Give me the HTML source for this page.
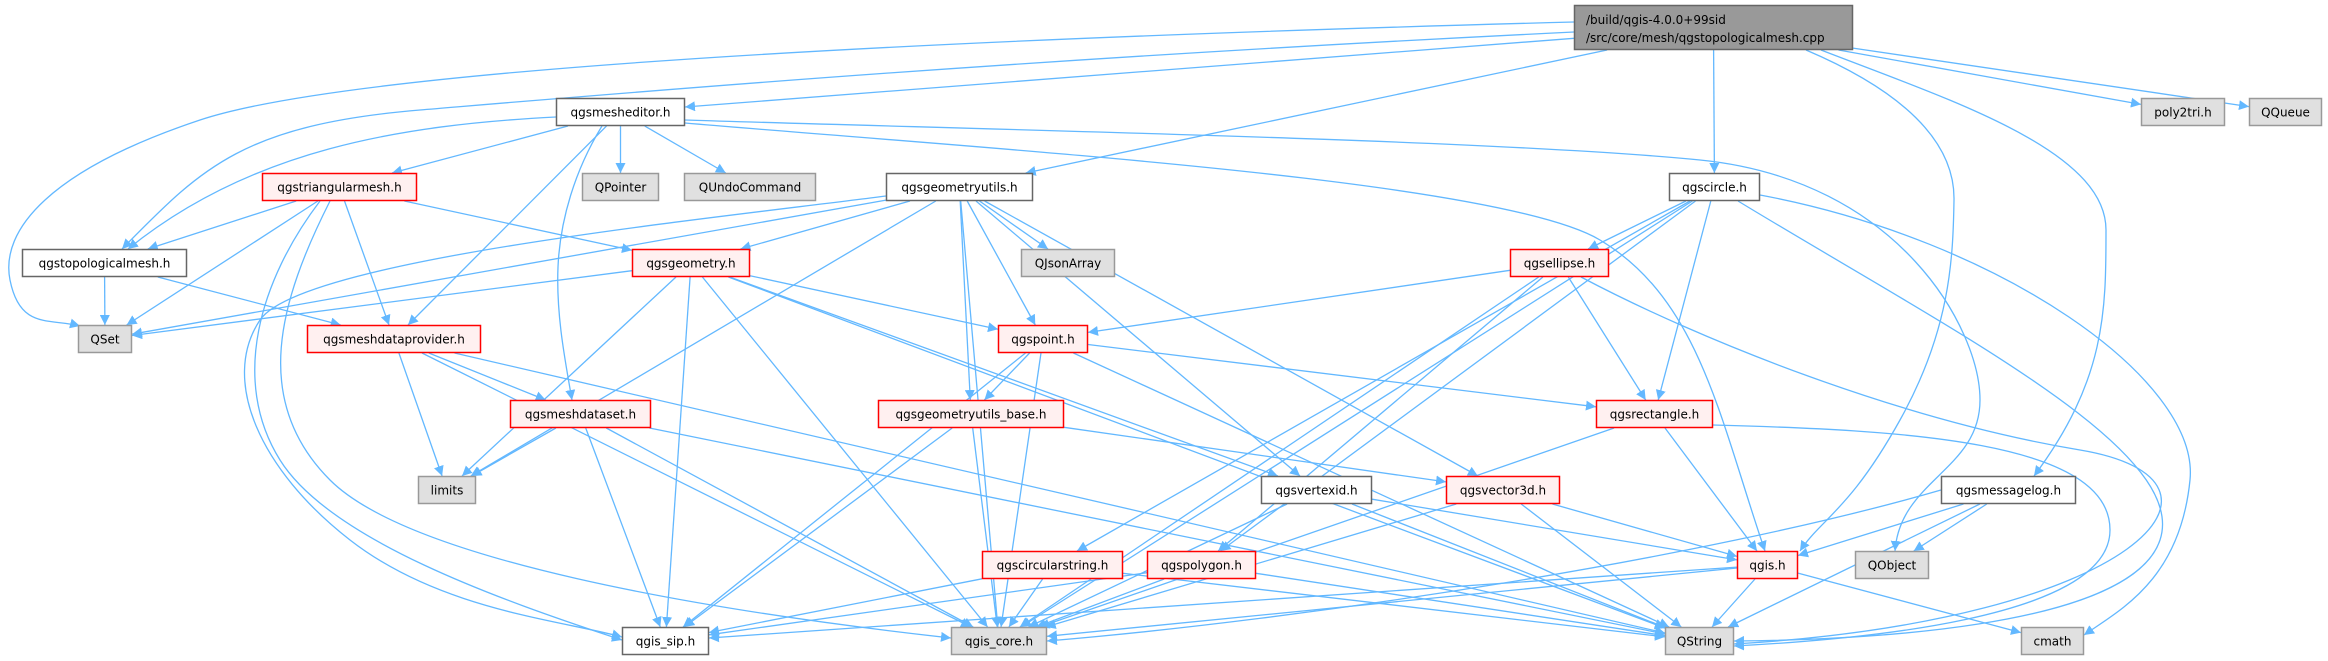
<!DOCTYPE html>
<html><head><meta charset="utf-8">
<style>
html,body{margin:0;padding:0;background:#fff;}
svg{display:block;}
text{font-family:"DejaVu Sans","Liberation Sans",sans-serif;font-size:12px;fill:#000;}
</style></head>
<body>
<svg id="g" width="2328" height="661" viewBox="0 0 2328 661" xmlns="http://www.w3.org/2000/svg">
<defs><marker id="ar" markerUnits="userSpaceOnUse" markerWidth="12" markerHeight="10" refX="10" refY="5" orient="auto"><path d="M0,0 L10,5 L0,10 Z" fill="#63b8ff"/></marker></defs>
<g id="edges" fill="none" stroke="#63b8ff" stroke-width="1.3"></g><g id="nodes"></g>
</svg>
<script>
(function(){
var N={
T:[1574,5,1853,50,'top',['/build/qgis-4.0.0+99sid','/src/core/mesh/qgstopologicalmesh.cpp']],
ed:[556,98,685,126,'w','qgsmesheditor.h'],
p2t:[2141,98,2225,126,'g','poly2tri.h'],
qq:[2249,98,2322,126,'g','QQueue'],
tri:[262,173,417,201,'r','qgstriangularmesh.h'],
qp:[582,173,659,201,'g','QPointer'],
qu:[684,173,816,201,'g','QUndoCommand'],
gu:[886,173,1033,201,'w','qgsgeometryutils.h'],
ci:[1669,173,1760,201,'w','qgscircle.h'],
topo:[22,249,187,277,'w','qgstopologicalmesh.h'],
geo:[632,249,750,277,'r','qgsgeometry.h'],
qj:[1021,249,1115,277,'g','QJsonArray'],
el:[1510,249,1609,277,'r','qgsellipse.h'],
qs:[78,325,132,353,'g','QSet'],
mdp:[307,325,481,353,'r','qgsmeshdataprovider.h'],
pt:[998,325,1088,353,'r','qgspoint.h'],
mds:[510,400,651,428,'r','qgsmeshdataset.h'],
gub:[878,400,1064,428,'r','qgsgeometryutils_base.h'],
rect:[1596,400,1713,428,'r','qgsrectangle.h'],
lim:[418,476,476,504,'g','limits'],
vid:[1261,476,1372,504,'w','qgsvertexid.h'],
v3:[1446,476,1560,504,'r','qgsvector3d.h'],
ml:[1941,476,2076,504,'w','qgsmessagelog.h'],
cs:[982,551,1123,579,'r','qgscircularstring.h'],
poly:[1147,551,1256,579,'r','qgspolygon.h'],
qgis:[1737,551,1798,579,'r','qgis.h'],
qo:[1855,551,1929,579,'g','QObject'],
sip:[622,627,709,655,'w','qgis_sip.h'],
core:[951,627,1047,655,'g','qgis_core.h'],
qstr:[1665,627,1734,655,'g','QString'],
cm:[2021,627,2084,655,'g','cmath']
};
var E={
T:['qs','ed','topo','gu','ci','qgis','p2t','qq','ml'],
ed:['tri','qp','qu','topo','mdp','mds','qgis','qo'],
tri:['topo','qs','mdp','geo','sip','core'],
topo:['qs','mdp'],
mdp:['mds','lim','core','qstr'],
mds:['lim','sip','core','qstr'],
gu:['geo','qj','pt','gub','vid','v3','core','sip','lim','qs'],
geo:['qs','lim','pt','core','sip','qstr','vid'],
pt:['gub','rect','sip','core','qstr'],
gub:['v3','sip','core'],
vid:['qgis','core','qstr'],
ci:['el','rect','cs','poly','core','qstr','cm'],
el:['pt','rect','poly','core','qstr'],
rect:['qgis','core','qstr'],
v3:['qgis','core','qstr'],
cs:['sip','core','qstr'],
poly:['sip','core','qstr'],
qgis:['qstr','cm','core','sip'],
ml:['qgis','qo','core','qstr']
};
var C={
'T-qs':'M1574,22 C900,40 350,70 200,120 S0,230 10,280 S50,318 80,326',
'T-topo':'M1574,32 C1000,60 600,95 420,110 S200,170 122,249',
'T-qgis':'M1806,50 C1900,90 1955,140 1954,200 S1950,330 1900,420 S1820,520 1800,551',
'T-ml':'M1821,50 C1950,100 2106,150 2106,230 S2106,380 2034,476',
'ed-topo':'M556,117 C400,125 250,150 128,249',
'ed-qo':'M685,120 C1000,130 1500,140 1700,160 S1980,330 1980,400 S1900,480 1895,551',
'ed-qgis':'M685,123 C1000,150 1500,180 1600,240 S1720,420 1765,551',
'ed-mds':'M602,126 C575,170 560,220 558,267 S565,360 572,400',
'tri-sip':'M320,201 C260,280 230,380 280,460 S500,600 622,640',
'tri-core':'M330,201 C280,300 250,400 330,480 S700,610 951,638',
'gu-sip':'M886,196 C700,220 300,260 260,320 S260,470 350,540 S560,620 622,637',
'ci-cm':'M1760,195 C2000,240 2200,380 2190,480 S2120,610 2084,635',
'ci-qstr':'M1738,201 C1950,330 2190,450 2160,540 S1850,640 1734,641',
'el-qstr':'M1581,277 C1700,340 1900,420 2080,450 S2140,620 1734,644',
'rect-qstr':'M1713,425 C1900,430 2110,440 2110,530 S1850,640 1734,646',
'ml-core':'M1941,490 C1700,560 1300,620 1047,641'
};
var NS='http://www.w3.org/2000/svg';
function mk(t,a,p){var e=document.createElementNS(NS,t);for(var k in a)e.setAttribute(k,a[k]);p.appendChild(e);return e;}
var ng=document.getElementById('nodes'),eg=document.getElementById('edges');
while(ng.firstChild)ng.removeChild(ng.firstChild);
while(eg.firstChild)eg.removeChild(eg.firstChild);
function clip(n,dx,dy){
  var cx=(n[0]+n[2])/2,cy=(n[1]+n[3])/2,hw=(n[2]-n[0])/2,hh=(n[3]-n[1])/2;
  var t=Infinity;
  if(dx!=0)t=Math.min(t,hw/Math.abs(dx));
  if(dy!=0)t=Math.min(t,hh/Math.abs(dy));
  return [cx+dx*t,cy+dy*t];
}
for(var s in E){E[s].forEach(function(d){
  var key=s+'-'+d;
  if(C[key]){mk('path',{d:C[key],'marker-end':'url(#ar)'},eg);return;}
  var a=N[s],b=N[d];
  var ax=(a[0]+a[2])/2,ay=(a[1]+a[3])/2,bx=(b[0]+b[2])/2,by=(b[1]+b[3])/2;
  var dx=bx-ax,dy=by-ay;
  var p0=clip(a,dx,dy);
  var p3=clip(b,-dx,-dy);
  mk('path',{d:'M'+p0[0].toFixed(1)+','+p0[1].toFixed(1)+' L'+p3[0].toFixed(1)+','+p3[1].toFixed(1),'marker-end':'url(#ar)'},eg);
});}
var sty={w:['#ffffff','#666666'],r:['#fff0f0','#ff0000'],g:['#e0e0e0','#999999'],top:['#999999','#666666']};
for(var k in N){var n=N[k],st=sty[n[4]];
  mk('rect',{x:n[0]+0.5,y:n[1]+0.5,width:n[2]-n[0]-1,height:n[3]-n[1]-1,fill:st[0],stroke:st[1],'stroke-width':1.5},ng);
  if(k=='T'){
    var t1=mk('text',{x:n[0]+12,y:n[1]+19},ng);t1.textContent=n[5][0];
    var t2=mk('text',{x:n[0]+12,y:n[1]+37},ng);t2.textContent=n[5][1];
  }else{
    var t=mk('text',{x:(n[0]+n[2])/2,y:(n[1]+n[3])/2+4.5,'text-anchor':'middle'},ng);t.textContent=n[5];
  }
}
})();
</script>
</body></html>
